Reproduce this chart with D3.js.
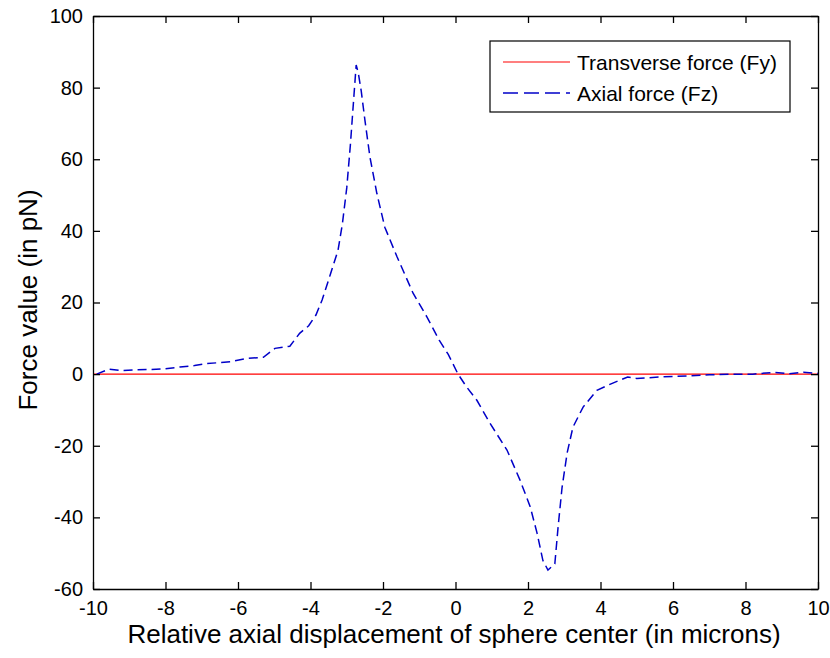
<!DOCTYPE html>
<html>
<head>
<meta charset="utf-8">
<script src="https://cdn.jsdelivr.net/npm/d3@7"></script>
<style>
  body { margin: 0; background: #fff; }
  text { font-family: "Liberation Sans", Arial, sans-serif; fill: #000; }
</style>
</head>
<body>
<svg id="chart" width="830" height="658"></svg>
<script>
// axial force Fz (x in microns, y in pN)
var fzX = [-9.9, -9.55, -9.2, -8.8, -8.4, -8.0, -7.6, -7.2, -6.85, -6.5, -6.2, -5.75, -5.3, -4.98, -4.57,
  -4.3, -4.05, -3.85, -3.68, -3.46, -3.24, -3.12, -3.0, -2.9, -2.8, -2.74, -2.68, -2.6, -2.5, -2.36,
  -2.17, -1.95, -1.61, -1.17, -0.79, -0.45, -0.2, 0.07, 0.3, 0.59, 0.95, 1.42, 1.78, 2.06, 2.25, 2.41,
  2.55, 2.74, 2.83, 2.94, 3.08, 3.24, 3.52, 3.9, 4.34, 4.75, 5.0, 5.64, 6.39, 7.0, 7.6, 8.2, 8.8, 9.2, 9.6, 10.0];
var fzY = [0, 1.4, 1.0, 1.2, 1.3, 1.5, 2.0, 2.4, 3.0, 3.2, 3.5, 4.4, 4.7, 7.2, 7.8,
  11.4, 13.5, 16.5, 20.7, 27.6, 34.6, 42, 52, 64, 78, 86.3, 84, 79, 71, 60.6,
  50.5, 41, 32.7, 22.6, 16, 9.5, 5.5, 0, -3.5, -7.3, -13.7, -21.2, -29.6, -37, -44.4, -52,
  -54.7, -53, -42.7, -31.6, -22, -14.8, -9.2, -4.5, -2.5, -0.8, -1.2, -0.8, -0.5, -0.2, 0, 0, 0.5, 0.1, 0.5, 0.2];
// transverse force Fy stays at zero
var fyX = [-10, 10];
var fyY = [0, 0];

var xTicks = [-10, -8, -6, -4, -2, 0, 2, 4, 6, 8, 10];
var yTicks = [-60, -40, -20, 0, 20, 40, 60, 80, 100];
var legendLabels = ['Transverse force (Fy)', 'Axial force (Fz)'];

var svg = d3.select('#chart');
var m = { left: 93, right: 818, top: 16, bottom: 589 };

var x = d3.scaleLinear().domain([-10, 10]).range([m.left, m.right]);
var y = d3.scaleLinear().domain([-60, 100]).range([m.bottom, m.top]);

var line = d3.line()
  .x(function(d) { return x(d[0]); })
  .y(function(d) { return y(d[1]); });

// plain hyphen minus like the original
var fmt = function(d) { return String(d); };

// lines
svg.append('path')
  .datum(d3.zip(fyX, fyY))
  .attr('d', line)
  .attr('fill', 'none')
  .attr('stroke', '#ff0000')
  .attr('stroke-width', 1.2);

svg.append('path')
  .datum(d3.zip(fzX, fzY))
  .attr('d', line)
  .attr('fill', 'none')
  .attr('stroke', '#0000c8')
  .attr('stroke-width', 1.5)
  .attr('stroke-dasharray', '9,5');

// axes, ticks inward on all four sides
var tickLen = 7;
svg.append('g').attr('transform', 'translate(0,' + m.bottom + ')')
  .call(d3.axisBottom(x).tickValues(xTicks).tickSizeInner(-tickLen).tickSizeOuter(0)
    .tickPadding(12).tickFormat(fmt));
svg.append('g').attr('transform', 'translate(0,' + m.top + ')')
  .call(d3.axisTop(x).tickValues(xTicks).tickSizeInner(-tickLen).tickSizeOuter(0).tickFormat(''));
svg.append('g').attr('transform', 'translate(' + m.left + ',0)')
  .call(d3.axisLeft(y).tickValues(yTicks).tickSizeInner(-tickLen).tickSizeOuter(0)
    .tickPadding(10).tickFormat(fmt));
svg.append('g').attr('transform', 'translate(' + m.right + ',0)')
  .call(d3.axisRight(y).tickValues(yTicks).tickSizeInner(-tickLen).tickSizeOuter(0).tickFormat(''));

svg.selectAll('.domain').attr('stroke', '#000').attr('stroke-width', 1.3);
svg.selectAll('.tick line').attr('stroke', '#000').attr('stroke-width', 1.3);
svg.selectAll('.tick text')
  .style('font-family', '"Liberation Sans", Arial, sans-serif')
  .style('font-size', '20px')
  .attr('fill', '#000');

// axis labels
svg.append('text')
  .attr('x', 454)
  .attr('y', 643)
  .attr('text-anchor', 'middle')
  .style('font-size', '26px')
  .text('Relative axial displacement of sphere center (in microns)');

svg.append('text')
  .attr('transform', 'translate(37,300) rotate(-90)')
  .attr('text-anchor', 'middle')
  .style('font-size', '26px')
  .text('Force value (in pN)');

// legend
var lg = svg.append('g').attr('transform', 'translate(490,41)');
lg.append('rect')
  .attr('width', 300).attr('height', 71)
  .attr('fill', '#fff').attr('stroke', '#000').attr('stroke-width', 1.2);
lg.append('line')
  .attr('x1', 13).attr('x2', 80).attr('y1', 21).attr('y2', 21)
  .attr('stroke', '#ff0000').attr('stroke-width', 1.2);
lg.append('line')
  .attr('x1', 13).attr('x2', 80).attr('y1', 52).attr('y2', 52)
  .attr('stroke', '#0000c8').attr('stroke-width', 1.5)
  .attr('stroke-dasharray', '15,6');
lg.selectAll('text.lab')
  .data(legendLabels)
  .enter().append('text')
  .attr('class', 'lab')
  .attr('x', 87)
  .attr('y', function(d, i) { return 29 + i * 31; })
  .style('font-size', '21px')
  .text(function(d) { return d; });
</script>
</body>
</html>
